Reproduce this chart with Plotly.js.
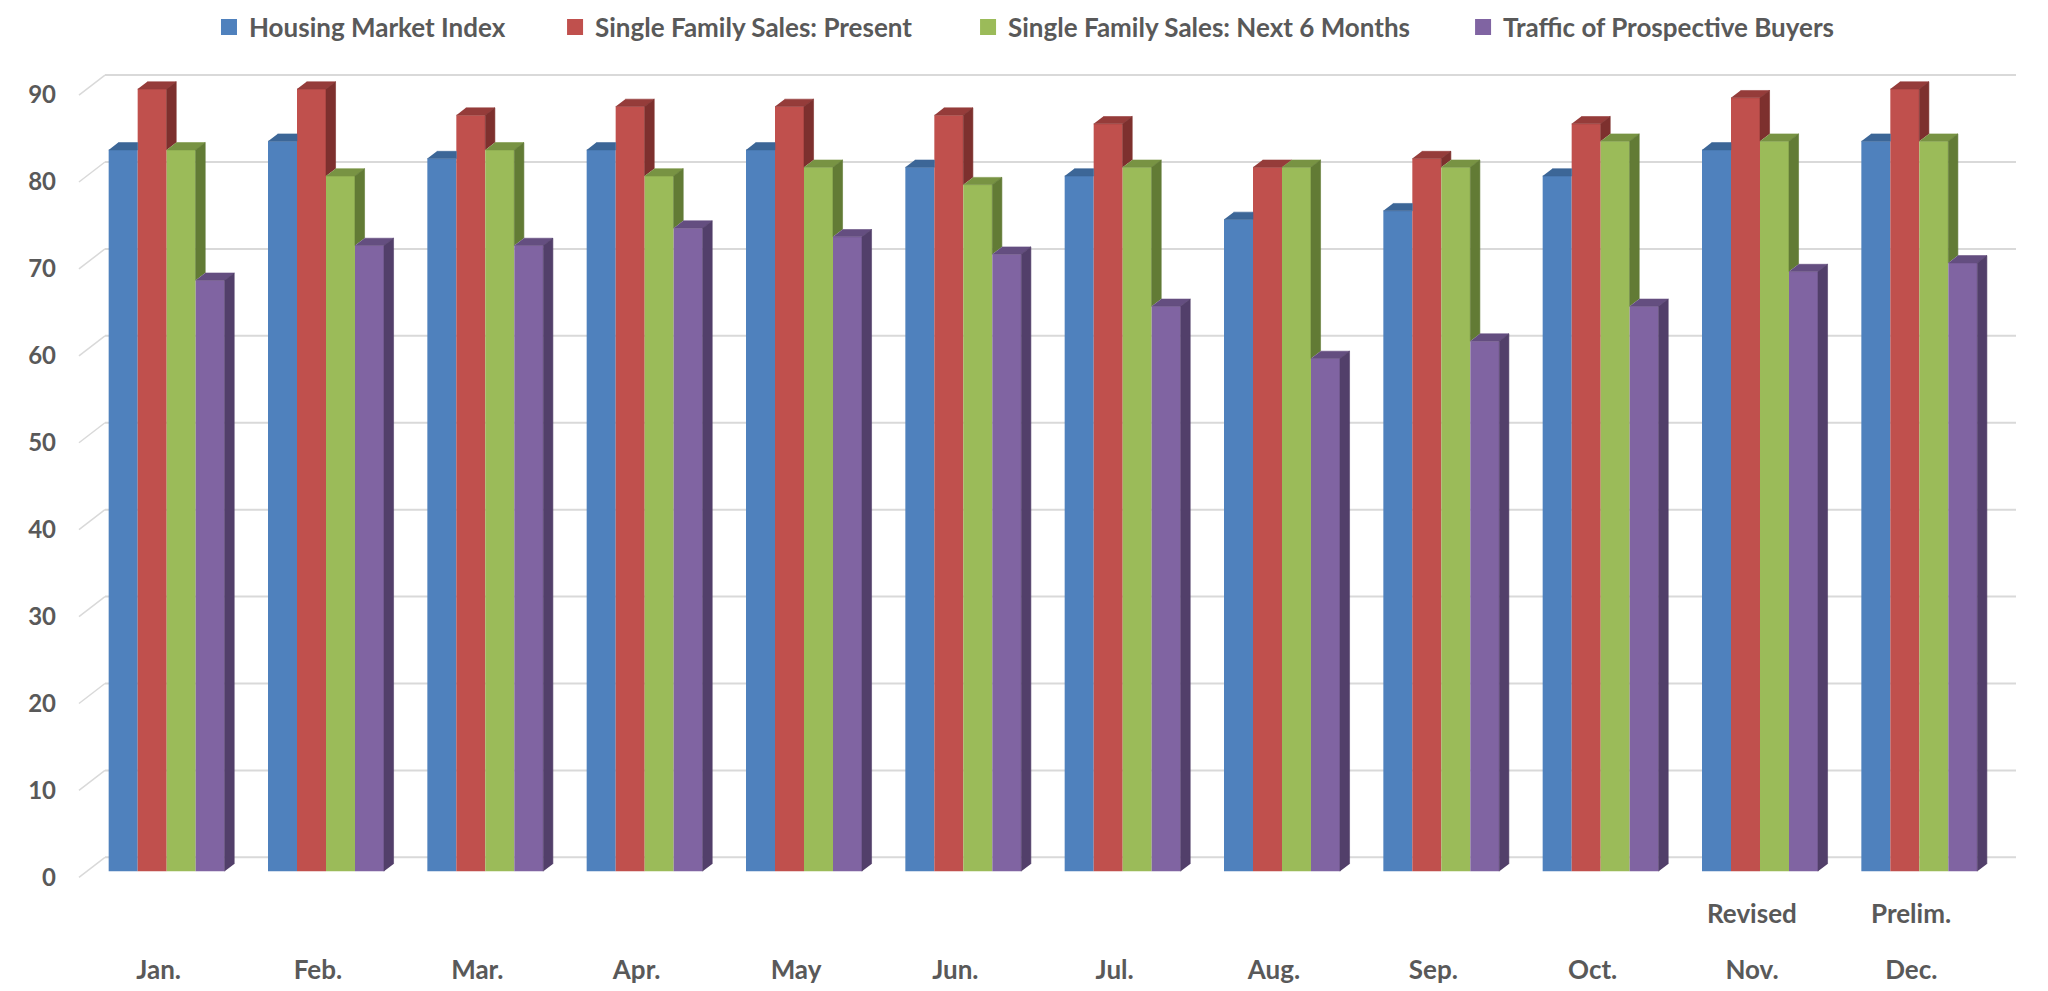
<!DOCTYPE html>
<html>
<head>
<meta charset="utf-8">
<script src="https://cdn.plot.ly/plotly-3.0.1.min.js"></script>
<style>
  html, body { margin: 0; padding: 0; background: #ffffff; }
  #chart { width: 2048px; height: 991px; }
</style>
</head>
<body>
<div id="chart"></div>
<script>
// values
var months = ['Jan.', 'Feb.', 'Mar.', 'Apr.', 'May', 'Jun.', 'Jul.', 'Aug.', 'Sep.', 'Oct.', 'Nov.', 'Dec.'];
var housingIndex = [83, 84, 82, 83, 83, 81, 80, 75, 76, 80, 83, 84];
var salesPresent = [90, 90, 87, 88, 88, 87, 86, 81, 82, 86, 89, 90];
var salesNext6 = [83, 80, 83, 80, 81, 79, 81, 81, 81, 84, 84, 84];
var buyerTraffic = [68, 72, 72, 74, 73, 71, 65, 59, 61, 65, 69, 70];
var yTicks = [0, 10, 20, 30, 40, 50, 60, 70, 80, 90];
var notes = [{ month: 'Nov.', text: 'Revised' }, { month: 'Dec.', text: 'Prelim.' }];

var series = [
    { name: 'Housing Market Index', y: housingIndex, front: '#4F81BD', top: '#3C6697', side: '#2F5179' },
    { name: 'Single Family Sales: Present', y: salesPresent, front: '#C0504D', top: '#953C3A', side: '#7D302E' },
    { name: 'Single Family Sales: Next 6 Months', y: salesNext6, front: '#9BBB59', top: '#789343', side: '#627B35' },
    { name: 'Traffic of Prospective Buyers', y: buyerTraffic, front: '#8064A2', top: '#644E80', side: '#523F6A' }
];
// left edge of each legend entry (paper units)
var legendX = [0.0638, 0.2448, 0.4608, 0.7197];

// fake 3d: bar width and depth, in axis units
var BAR_W = 0.182;
var DEPTH_X = 0.06;
var DEPTH_Y = 0.84;

var idx = months.map(function (_, i) { return i; });
var textFont = { family: 'Lato, "Open Sans", sans-serif', size: 26, color: '#595959', weight: 'bold' };
var tickFontY = { family: 'Lato, "Open Sans", sans-serif', size: 24, color: '#595959', weight: 'bold' };

var traces = [];

series.forEach(function (s, j) {
    traces.push({
        type: 'bar',
        name: s.name,
        x: idx,
        y: s.y,
        width: BAR_W,
        offset: (j - 2) * BAR_W,
        marker: { color: s.front, line: { width: 0 } },
        showlegend: false,
        hoverinfo: 'y+name'
    });
});

series.forEach(function (s, j) {
    var next = series[j + 1] ? series[j + 1].y : null;
    var tx = [], ty = [], sx = [], sy = [];
    idx.forEach(function (i) {
        var v = s.y[i];
        var L = i + (j - 2) * BAR_W;
        var R = L + BAR_W;
        var vn = next ? next[i] : 0;

        // top face, cut where the taller neighbour hides it
        if (next && vn > v) {
            tx.push(L, R, R, L + DEPTH_X, null);
        } else {
            tx.push(L, R, R + DEPTH_X, L + DEPTH_X, null);
        }
        ty.push(v, v, v + DEPTH_Y, v + DEPTH_Y, null);

        // right side face, only the part above the neighbour
        if (vn < v) {
            sx.push(R, R, R + DEPTH_X, R + DEPTH_X, null);
            sy.push(vn, v, v + DEPTH_Y, vn + DEPTH_Y, null);
        }
    });
    traces.push({
        type: 'scatter', mode: 'lines', x: tx, y: ty, fill: 'toself',
        fillcolor: s.top, line: { color: s.top, width: 0.6 },
        showlegend: false, hoverinfo: 'skip'
    });
    traces.push({
        type: 'scatter', mode: 'lines', x: sx, y: sy, fill: 'toself',
        fillcolor: s.side, line: { color: s.side, width: 0.6 },
        showlegend: false, hoverinfo: 'skip'
    });
});

// legend entries, one legend each so the spacing can follow the original
series.forEach(function (s, j) {
    traces.push({
        type: 'scatter', mode: 'markers', name: s.name,
        x: [null], y: [null],
        marker: { symbol: 'square', size: 16, color: s.front },
        legend: j === 0 ? 'legend' : 'legend' + (j + 1),
        hoverinfo: 'skip'
    });
});

// gridlines on the back wall plus the little diagonal to the front
var shapes = [];
yTicks.forEach(function (v) {
    shapes.push({
        type: 'line', layer: 'below', xref: 'paper', yref: 'y',
        x0: 0.0094, x1: 1.0089, y0: v + 1.61, y1: v + 1.61,
        line: { color: '#D9D9D9', width: 2 }
    });
    shapes.push({
        type: 'line', layer: 'below', xref: 'paper', yref: 'y',
        x0: -0.0042, x1: 0.0094, y0: v - 0.69, y1: v + 1.61,
        line: { color: '#D9D9D9', width: 1.5 }
    });
});

var annotations = notes.map(function (n) {
    return {
        text: n.text, xref: 'x', yref: 'paper',
        x: months.indexOf(n.month), y: -0.0404, xshift: -8,
        xanchor: 'center', yanchor: 'middle', showarrow: false,
        font: textFont
    };
});

var layout = {
    width: 2048,
    height: 991,
    margin: { l: 87, r: 49, t: 63, b: 111, pad: 0, autoexpand: false },
    paper_bgcolor: '#ffffff',
    plot_bgcolor: 'rgba(0,0,0,0)',
    barmode: 'overlay',
    font: textFont,
    showlegend: true,
    xaxis: {
        range: [-0.5, 11.5],
        tickvals: idx,
        ticktext: months,
        showgrid: false,
        zeroline: false,
        showline: false,
        ticks: '',
        ticklabelstandoff: 72,
        ticklabelshift: -8,
        tickfont: textFont,
        fixedrange: true
    },
    yaxis: {
        range: [-1, 93],
        tickvals: yTicks,
        showgrid: false,
        zeroline: false,
        showline: false,
        ticks: '',
        ticklabelstandoff: 30,
        ticklabelshift: 6,
        tickfont: tickFontY,
        fixedrange: true
    },
    shapes: shapes,
    annotations: annotations
};

legendX.forEach(function (lx, j) {
    layout[j === 0 ? 'legend' : 'legend' + (j + 1)] = {
        orientation: 'h',
        x: lx, xanchor: 'left',
        y: 1.044, yanchor: 'middle',
        font: textFont,
        itemwidth: 30,
        itemsizing: 'trace',
        bgcolor: 'rgba(0,0,0,0)'
    };
});

Plotly.newPlot('chart', traces, layout, { displayModeBar: false, staticPlot: true });
</script>
</body>
</html>
